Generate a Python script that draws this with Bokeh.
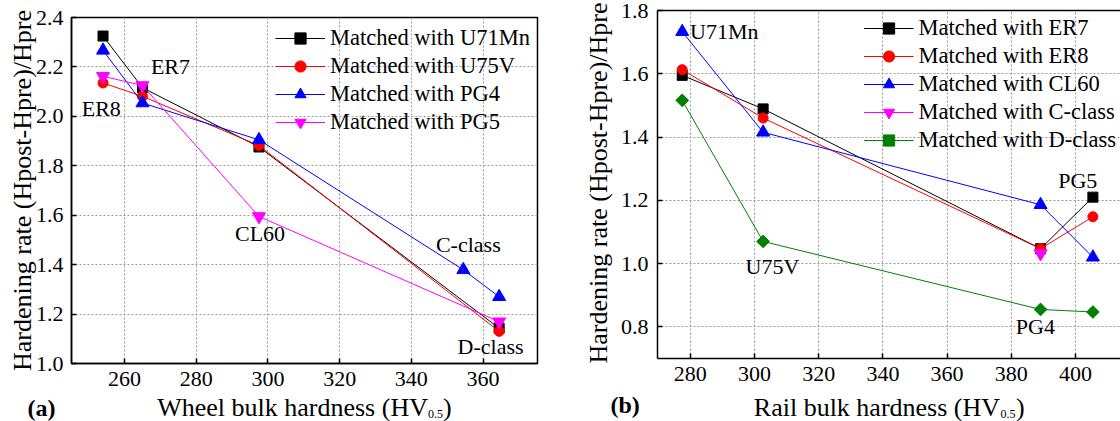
import numpy as np
from bokeh.plotting import figure
from bokeh.models import (Range1d, Label, Legend, LegendItem, FixedTicker,
                          PrintfTickFormatter, LinearAxis)
from bokeh.embed import file_html
from bokeh.resources import INLINE

FONT = "Liberation Serif"

# ---------------- Panel (a): wheel bulk hardness ----------------
wheel_names = ["ER8", "ER7", "CL60", "C-class", "D-class"]
wheel_hardness = [254.0, 265.0, 297.5, 354.5, 364.5]

a_u71mn_x = [254.0, 265.0, 297.5, 364.5]
a_u71mn_y = [2.325, 2.116, 1.876, 1.143]
a_u75v_x = [254.0, 265.0, 297.5, 364.5]
a_u75v_y = [2.135, 2.081, 1.882, 1.130]
a_pg4_x = [254.0, 265.0, 297.5, 354.5, 364.5]
a_pg4_y = [2.267, 2.054, 1.905, 1.379, 1.270]
a_pg5_x = [254.0, 265.0, 297.5, 364.5]
a_pg5_y = [2.162, 2.125, 1.595, 1.169]

a_label_x = [253.5, 272.8, 297.8, 355.9, 362.1]
a_label_y = [2.03, 2.20, 1.525, 1.481, 1.068]

a_xticks = [260, 280, 300, 320, 340, 360]
a_yticks = [1.0, 1.2, 1.4, 1.6, 1.8, 2.0, 2.2, 2.4]

# ---------------- Panel (b): rail bulk hardness ----------------
rail_names = ["U71Mn", "U75V", "PG4", "PG5"]
rail_hardness = [277.5, 302.7, 389.1, 405.4]

b_er7_y = [1.595, 1.489, 1.047, 1.210]
b_er8_y = [1.613, 1.460, 1.047, 1.148]
b_cl60_y = [1.733, 1.415, 1.186, 1.020]
b_cclass_x = [389.1]
b_cclass_y = [1.032]
b_dclass_y = [1.516, 1.070, 0.855, 0.847]

b_label_x = [290.6, 305.6, 387.5, 400.7]
b_label_y = [1.735, 0.99, 0.80, 1.264]

b_xticks = [280, 300, 320, 340, 360, 380, 400]
b_yticks = [0.8, 1.0, 1.2, 1.4, 1.6, 1.8]

Y_TITLE = "Hardening rate (Hpost-Hpre)/Hpre"


def make_fig(xr, yr, w, fl, fr, ft, fb, xticks, yticks, ystand, left):
    p = figure(width=w, height=421,
               x_range=Range1d(*xr), y_range=Range1d(*yr),
               output_backend="svg", toolbar_location=None,
               min_border_left=fl, min_border_right=fr,
               min_border_top=ft, min_border_bottom=fb)
    p.styles = {"position": "absolute", "left": f"{left}px", "top": "0px"}
    p.background_fill_color = "white"
    p.border_fill_color = "white"
    for ax in (p.xaxis[0], p.yaxis[0]):
        ax.major_tick_in = 5
        ax.major_tick_out = 0
        ax.minor_tick_in = 0
        ax.minor_tick_out = 0
        ax.axis_line_width = 1.5
        ax.axis_line_color = "black"
        ax.major_tick_line_width = 1.5
        ax.major_tick_line_color = "black"
        ax.major_label_text_font = FONT
        ax.major_label_text_font_size = "22px"
        ax.major_label_text_color = "black"
    p.xaxis[0].ticker = FixedTicker(ticks=xticks)
    p.yaxis[0].ticker = FixedTicker(ticks=yticks)
    p.yaxis[0].formatter = PrintfTickFormatter(format="%.1f")
    p.xaxis[0].major_label_standoff = 8
    p.yaxis[0].major_label_standoff = ystand
    for g in (p.xgrid[0], p.ygrid[0]):
        g.grid_line_color = "#9a9a9a"
        g.grid_line_dash = "2 2"
        g.grid_line_width = 1
    p.outline_line_color = "black"
    p.outline_line_width = 1.5
    return p


def series(p, x, y, color, marker, size, angle=0.0):
    l = p.line(x, y, line_color=color, line_width=1)
    s = p.scatter(x, y, marker=marker, size=size, fill_color=color,
                  line_color=color, angle=angle)
    return [l, s]


def add_legend(p, items, margin):
    leg = Legend(items=items, location="top_right", margin=margin, padding=0,
                 spacing=0, label_height=28, glyph_height=28, glyph_width=50,
                 label_standoff=5, background_fill_alpha=0,
                 border_line_color=None, label_text_font=FONT,
                 label_text_font_size="22.5px", label_text_color="black")
    p.add_layout(leg)


def text(p, x, y, t, size="22px", align="center", baseline="middle",
         angle=0.0, style="normal"):
    p.add_layout(Label(x=x, y=y, text=t, text_font=FONT,
                       text_font_size=size, text_align=align,
                       text_baseline=baseline, angle=angle,
                       text_color="black", text_font_style=style))


# ---------------- Figure (a) ----------------
pa = make_fig((245.2, 375.2), (1.0, 2.4), 560, 71, 23, 17, 58,
              a_xticks, a_yticks, 8, 0)
ra1 = series(pa, a_u71mn_x, a_u71mn_y, "black", "square", 10)
ra2 = series(pa, a_u75v_x, a_u75v_y, "red", "circle", 10)
ra3 = series(pa, a_pg4_x, a_pg4_y, "blue", "triangle", 13)
ra4 = series(pa, a_pg5_x, a_pg5_y, "magenta", "inverted_triangle", 13)
add_legend(pa, [LegendItem(label="Matched with U71Mn", renderers=ra1),
                LegendItem(label="Matched with U75V", renderers=ra2),
                LegendItem(label="Matched with PG4", renderers=ra3),
                LegendItem(label="Matched with PG5", renderers=ra4)], 7)
for name, x, y in zip(wheel_names, a_label_x, a_label_y):
    text(pa, x, y, name)

# ---------------- Figure (b) ----------------
pb = make_fig((269.8, 414.0), (0.7, 1.8), 560, 97, 0, 10, 63,
              b_xticks, b_yticks, 9, 560)
pb.outline_line_color = None
top_axis = LinearAxis(ticker=FixedTicker(ticks=[]), axis_line_width=1.5,
                      axis_line_color="black", major_tick_in=0,
                      major_tick_out=0, minor_tick_in=0, minor_tick_out=0,
                      major_label_text_font_size="0px")
pb.add_layout(top_axis, "above")
rb1 = series(pb, rail_hardness, b_er7_y, "black", "square", 10)
rb2 = series(pb, rail_hardness, b_er8_y, "red", "circle", 10)
rb3 = series(pb, rail_hardness, b_cl60_y, "blue", "triangle", 13)
rb4 = series(pb, b_cclass_x, b_cclass_y, "magenta", "inverted_triangle", 13)
rb5 = series(pb, rail_hardness, b_dclass_y, "green", "square", 9,
             angle=np.pi / 4)
add_legend(pb, [LegendItem(label="Matched with ER7", renderers=rb1),
                LegendItem(label="Matched with ER8", renderers=rb2),
                LegendItem(label="Matched with CL60", renderers=rb3),
                LegendItem(label="Matched with C-class", renderers=rb4),
                LegendItem(label="Matched with D-class", renderers=rb5)], 4)
for name, x, y in zip(rail_names, b_label_x, b_label_y):
    text(pb, x, y, name)

# ---------------- Text layer for axis titles & panel tags ----------------
ov = figure(width=1120, height=421, x_range=Range1d(0, 1120),
            y_range=Range1d(421, 0), output_backend="svg",
            toolbar_location=None, min_border=0,
            x_axis_location=None, y_axis_location=None)
ov.styles = {"position": "absolute", "left": "0px", "top": "0px"}
ov.grid.visible = False
ov.outline_line_color = None
ov.background_fill_alpha = 0
ov.border_fill_alpha = 0

text(ov, 22, 190, Y_TITLE, size="26px", angle=np.pi / 2)
text(ov, 598, 182.5, Y_TITLE, size="26px", angle=np.pi / 2)
text(ov, 156.7, 407, "Wheel bulk hardness (HV", size="26px",
     align="left", baseline="alphabetic")
text(ov, 427.5, 413, "0.5", size="12px", align="left",
     baseline="alphabetic")
text(ov, 442.5, 407, ")", size="26px", align="left", baseline="alphabetic")
text(ov, 753.3, 407, "Rail bulk hardness (HV", size="26px",
     align="left", baseline="alphabetic")
text(ov, 1000, 413, "0.5", size="12px", align="left",
     baseline="alphabetic")
text(ov, 1015.5, 407, ")", size="26px", align="left", baseline="alphabetic")
text(ov, 27, 407, "(a)", size="24px", align="left", baseline="alphabetic",
     style="bold")
text(ov, 610, 404, "(b)", size="24px", align="left", baseline="alphabetic",
     style="bold")

open("out.html", "w").write(file_html([pa, pb, ov], INLINE))
